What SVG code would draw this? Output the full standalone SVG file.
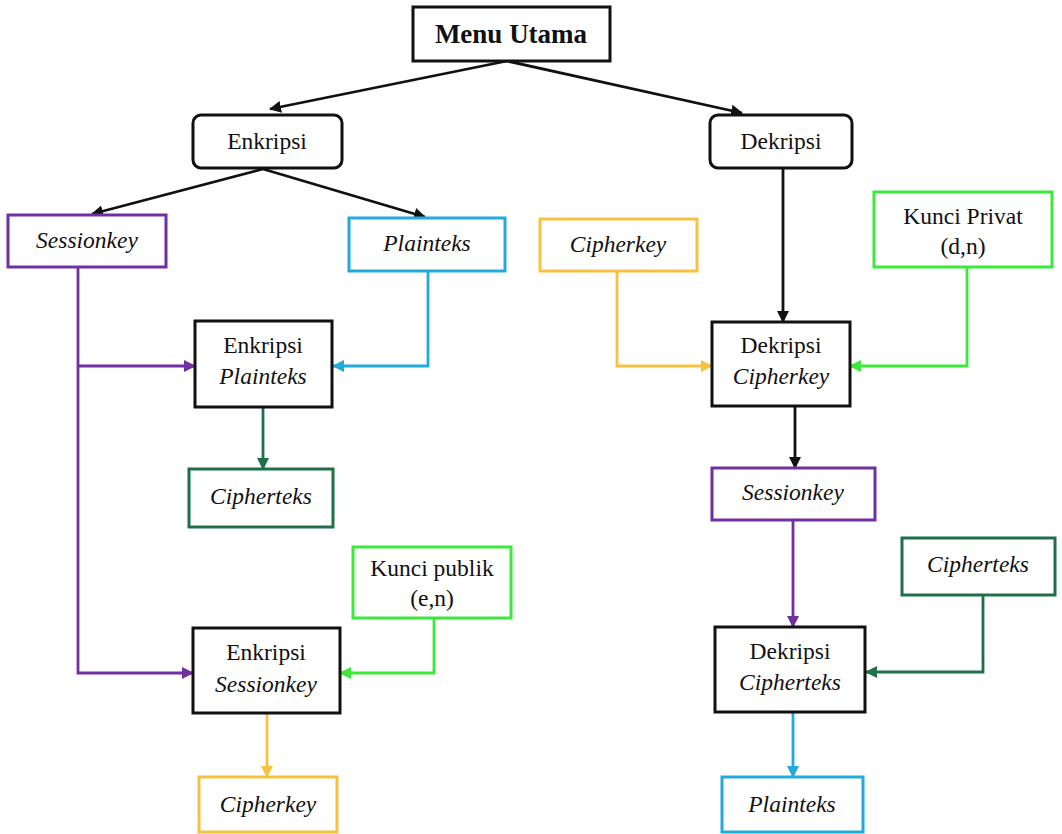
<svg xmlns="http://www.w3.org/2000/svg" width="1062" height="834" viewBox="0 0 1062 834">
<style>
.bx{fill:#fff;stroke-width:3}
.k{stroke:#111}
.pu{stroke:#7030A0}
.bl{stroke:#22A9DE}
.or{stroke:#F7C242}
.gr{stroke:#3BE83B}
.dg{stroke:#1F7048}
.t{font-family:"Liberation Serif","Times New Roman",serif;font-size:23.5px;fill:#111;text-anchor:middle}
.i{font-style:italic}
.h{font-weight:bold;font-size:27px}
.c{fill:none;stroke-width:2.8}
</style>
<defs>
<marker id="ak" markerUnits="userSpaceOnUse" markerWidth="14" markerHeight="14" refX="11" refY="6" orient="auto"><path d="M0,0 L12,6 L0,12 z" fill="#111"/></marker>
<marker id="apu" markerUnits="userSpaceOnUse" markerWidth="14" markerHeight="14" refX="11" refY="6" orient="auto"><path d="M0,0 L12,6 L0,12 z" fill="#7030A0"/></marker>
<marker id="abl" markerUnits="userSpaceOnUse" markerWidth="14" markerHeight="14" refX="11" refY="6" orient="auto"><path d="M0,0 L12,6 L0,12 z" fill="#22A9DE"/></marker>
<marker id="aor" markerUnits="userSpaceOnUse" markerWidth="14" markerHeight="14" refX="11" refY="6" orient="auto"><path d="M0,0 L12,6 L0,12 z" fill="#F7C242"/></marker>
<marker id="agr" markerUnits="userSpaceOnUse" markerWidth="14" markerHeight="14" refX="11" refY="6" orient="auto"><path d="M0,0 L12,6 L0,12 z" fill="#3BE83B"/></marker>
<marker id="adg" markerUnits="userSpaceOnUse" markerWidth="14" markerHeight="14" refX="11" refY="6" orient="auto"><path d="M0,0 L12,6 L0,12 z" fill="#1F7048"/></marker>
</defs>
<rect width="1062" height="834" fill="#fff"/>
<g id="connectors">
<path class="c k" d="M507,61 L270,109" marker-end="url(#ak)"/>
<path class="c k" d="M507,61 L742,113" marker-end="url(#ak)"/>
<path class="c k" d="M263,169 L92,214" marker-end="url(#ak)"/>
<path class="c k" d="M263,169 L425,217" marker-end="url(#ak)"/>
<path class="c pu" d="M78,267 V673 H193" marker-end="url(#apu)"/>
<path class="c pu" d="M78,366 H195" marker-end="url(#apu)"/>
<path class="c bl" d="M428,271 V366 H333" marker-end="url(#abl)"/>
<path class="c dg" d="M263,407 V469" marker-end="url(#adg)"/>
<path class="c gr" d="M434,618 V673 H340" marker-end="url(#agr)"/>
<path class="c or" d="M267,713 V777" marker-end="url(#aor)"/>
<path class="c k" d="M783,168 V322" marker-end="url(#ak)"/>
<path class="c or" d="M617,271 V366 H712" marker-end="url(#aor)"/>
<path class="c gr" d="M967,267 V366 H850" marker-end="url(#agr)"/>
<path class="c k" d="M795,406 V468" marker-end="url(#ak)"/>
<path class="c pu" d="M793,520 V627" marker-end="url(#apu)"/>
<path class="c dg" d="M983,595 V672 H866" marker-end="url(#adg)"/>
<path class="c bl" d="M793,712 V777" marker-end="url(#abl)"/>
</g>
<g id="menu-utama"><rect class="bx k" x="413" y="7" width="197" height="54"/><text class="t h" x="511" y="43">Menu Utama</text></g>
<g id="enkripsi"><rect class="bx k" x="193" y="115" width="149" height="53" rx="8"/><text class="t" x="267" y="149">Enkripsi</text></g>
<g id="dekripsi"><rect class="bx k" x="710" y="115" width="142" height="53" rx="8"/><text class="t" x="781" y="149">Dekripsi</text></g>
<g id="sessionkey-1"><rect class="bx pu" x="8" y="215" width="158" height="52"/><text class="t i" x="87" y="248">Sessionkey</text></g>
<g id="plainteks-1"><rect class="bx bl" x="349" y="218" width="156" height="53"/><text class="t i" x="427" y="251">Plainteks</text></g>
<g id="enkripsi-plainteks"><rect class="bx k" x="195" y="321" width="137" height="86"/><text class="t" x="263" y="353">Enkripsi</text><text class="t i" x="263" y="384">Plainteks</text></g>
<g id="cipherteks-1"><rect class="bx dg" x="189" y="469" width="144" height="58"/><text class="t i" x="261" y="504">Cipherteks</text></g>
<g id="kunci-publik"><rect class="bx gr" x="353" y="547" width="158" height="71"/><text class="t" x="432" y="576">Kunci publik</text><text class="t" x="432" y="606">(e,n)</text></g>
<g id="enkripsi-sessionkey"><rect class="bx k" x="193" y="628" width="147" height="85"/><text class="t" x="266" y="660">Enkripsi</text><text class="t i" x="266" y="692">Sessionkey</text></g>
<g id="cipherkey-1"><rect class="bx or" x="199" y="777" width="138" height="55"/><text class="t i" x="268" y="812">Cipherkey</text></g>
<g id="cipherkey-2"><rect class="bx or" x="540" y="219" width="157" height="52"/><text class="t i" x="618" y="252">Cipherkey</text></g>
<g id="kunci-privat"><rect class="bx gr" x="874" y="192" width="178" height="75"/><text class="t" x="963" y="224">Kunci Privat</text><text class="t" x="963" y="254">(d,n)</text></g>
<g id="dekripsi-cipherkey"><rect class="bx k" x="712" y="322" width="138" height="84"/><text class="t" x="781" y="353">Dekripsi</text><text class="t i" x="781" y="384">Cipherkey</text></g>
<g id="sessionkey-2"><rect class="bx pu" x="712" y="468" width="163" height="52"/><text class="t i" x="793" y="500">Sessionkey</text></g>
<g id="cipherteks-2"><rect class="bx dg" x="902" y="538" width="153" height="57"/><text class="t i" x="978" y="572">Cipherteks</text></g>
<g id="dekripsi-cipherteks"><rect class="bx k" x="715" y="627" width="150" height="85"/><text class="t" x="790" y="659">Dekripsi</text><text class="t i" x="790" y="690">Cipherteks</text></g>
<g id="plainteks-2"><rect class="bx bl" x="722" y="777" width="141" height="55"/><text class="t i" x="792" y="812">Plainteks</text></g>
</svg>
